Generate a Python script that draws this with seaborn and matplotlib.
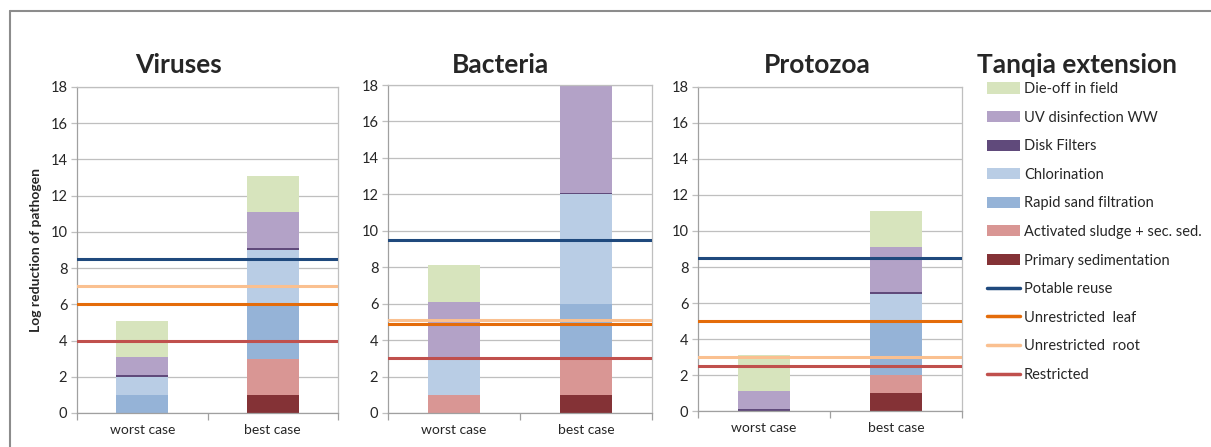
import numpy as np
import pandas as pd
import matplotlib
matplotlib.use("Agg")
import matplotlib.pyplot as plt
from matplotlib.patches import Patch
from matplotlib.lines import Line2D
import seaborn as sns

# data, bottom-to-top order of the treatment steps
cases = ["worst case", "best case"]
steps = ["Primary sedimentation", "Activated sludge + sec. sed.", "Rapid sand filtration",
         "Chlorination", "Disk Filters", "UV disinfection WW", "Die-off in field"]
step_colors = ["#843236", "#D99694", "#95B3D7", "#B9CDE5", "#604A7B", "#B3A2C7", "#D7E4BD"]

pathogens = ["Viruses", "Bacteria", "Protozoa"]
viruses_worst = [0, 0, 1, 1, 0.1, 1, 2]
viruses_best = [1, 2, 3, 3, 0.1, 2, 2]
bacteria_worst = [0, 1, 0, 2, 0, 3.1, 2]
bacteria_best = [1, 2, 3, 6, 0.1, 6, 2]
protozoa_worst = [0, 0, 0, 0, 0.1, 1, 2]
protozoa_best = [1, 1, 3, 1.5, 0.1, 2.5, 2]

targets = ["Potable reuse", "Unrestricted  leaf", "Unrestricted  root", "Restricted"]
target_colors = ["#1F497D", "#E46C0A", "#FAC090", "#C0504D"]
potable = [8.5, 9.5, 8.5]
unrestricted_leaf = [6, 4.9, 5]
unrestricted_root = [7, 5.1, 3]
restricted = [4, 3, 2.5]

values = {
    "Viruses": (viruses_worst, viruses_best),
    "Bacteria": (bacteria_worst, bacteria_best),
    "Protozoa": (protozoa_worst, protozoa_best),
}
lines = [potable, unrestricted_leaf, unrestricted_root, restricted]

sns.set_theme(style="white")
plt.rcParams["font.family"] = ["Lato", "DejaVu Sans"]

fig = plt.figure(figsize=(12.11, 4.47), dpi=100)

# outer frame (left and top only, like the original)
fig.add_artist(Line2D([0.0083, 0.0083], [0, 0.975], color="#8C8C8C", lw=1.5))
fig.add_artist(Line2D([0.0083, 1], [0.975, 0.975], color="#8C8C8C", lw=1.5))

axes_pos = [[0.0636, 0.0761, 0.2155, 0.7293],
            [0.3204, 0.0761, 0.2180, 0.7337],
            [0.5764, 0.0805, 0.2180, 0.7249]]
title_x = [0.147, 0.413, 0.675]

for i, name in enumerate(pathogens):
    ax = fig.add_axes(axes_pos[i])
    worst, best = values[name]
    df = pd.DataFrame({"case": np.repeat(cases, len(steps)),
                       "step": steps * 2,
                       "value": list(worst) + list(best)})
    df["cum"] = df.groupby("case")["value"].cumsum()
    # draw tallest cumulative layer first, then overlay the lower ones
    for step, col in reversed(list(zip(steps, step_colors))):
        sub = df[df["step"] == step]
        sns.barplot(data=sub, x="case", y="cum", order=cases, color=col,
                    saturation=1, width=0.4, linewidth=0, errorbar=None, ax=ax)
    for vals, col in zip(lines, target_colors):
        ax.axhline(vals[i], color=col, lw=2.2, zorder=3)

    ax.set_ylim(0, 18)
    ax.set_xlim(-0.5, 1.5)
    ax.set_yticks(range(0, 19, 2))
    ax.yaxis.grid(True, color="#BFBFBF", lw=0.9)
    ax.set_axisbelow(True)
    ax.set_xticks([-0.5, 0.5, 1.5])
    ax.set_xticklabels([])
    ax.set_xticks([0, 1], minor=True)
    ax.set_xticklabels(cases, minor=True, fontsize=10, color="#262626")
    ax.tick_params(axis="x", which="major", length=5, width=0.9, color="#A0A0A0", direction="out", bottom=True)
    ax.tick_params(axis="x", which="minor", length=0, pad=8)
    ax.tick_params(axis="y", length=4, width=0.9, color="#BFBFBF", direction="out", left=True,
                   labelsize=10.5, labelcolor="#262626", pad=3)
    for s in ax.spines.values():
        s.set_color("#BFBFBF")
        s.set_linewidth(0.9)
    ax.spines["bottom"].set_color("#A0A0A0")
    ax.spines["left"].set_color("#A0A0A0")
    ax.set_xlabel("")
    ax.set_ylabel("Log reduction of pathogen" if i == 0 else "", fontsize=10, fontweight="bold", labelpad=6)
    fig.text(title_x[i], 0.855, name, ha="center", va="center", fontsize=19, fontweight="bold")

# legend
handles = [Patch(facecolor=c, edgecolor="none", label=s)
           for s, c in reversed(list(zip(steps, step_colors)))]
handles += [Line2D([0], [0], color=c, lw=2.5, label=t) for t, c in zip(targets, target_colors)]
fig.text(0.807, 0.855, "Tanqia extension", ha="left", va="center", fontsize=19, fontweight="bold")
fig.legend(handles=handles, loc="upper left", bbox_to_anchor=(0.813, 0.823), frameon=False,
           fontsize=10.5, labelspacing=1.0, handlelength=2.2, handleheight=0.8, handletextpad=0.3,
           borderaxespad=0, borderpad=0.2)

fig.savefig("out.png", dpi=100)
